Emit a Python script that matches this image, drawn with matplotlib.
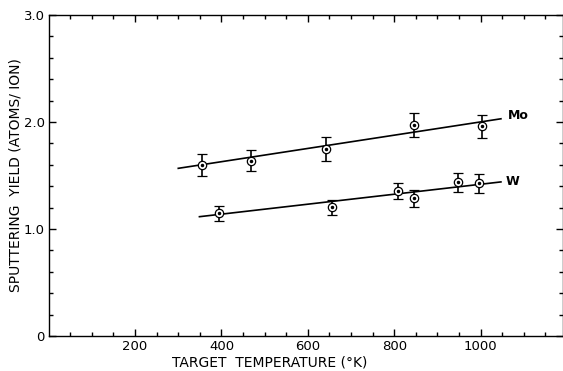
import matplotlib.pyplot as plt
import numpy as np

plt.rcParams['font.family'] = ['DejaVu Sans']

# Mo data (temperature K, yield atoms/ion, error)
mo_t = [355, 468, 642, 846, 1003]
mo_y = [1.60, 1.64, 1.75, 1.97, 1.96]
mo_err = [0.10, 0.095, 0.11, 0.11, 0.11]
mo_fit_t = [300, 1047]
mo_fit_y = [1.567, 2.03]

# W data
w_t = [394, 657, 808, 845, 947, 996]
w_y = [1.147, 1.203, 1.355, 1.287, 1.436, 1.427]
w_err = [0.07, 0.07, 0.075, 0.08, 0.087, 0.087]
w_fit_t = [349, 1047]
w_fit_y = [1.115, 1.44]

xticks = [200, 400, 600, 800, 1000]
yticks = [0, 1.0, 2.0, 3.0]
ytick_labels = ['0', '1.0', '2.0', '3.0']

fig = plt.figure(figsize=(5.63, 3.71), dpi=100)
ax = fig.add_axes([48.7 / 563, 35 / 371, 514 / 563, 321 / 371])

for t, y, e, ft, fy in [(mo_t, mo_y, mo_err, mo_fit_t, mo_fit_y),
                        (w_t, w_y, w_err, w_fit_t, w_fit_y)]:
    ax.plot(ft, fy, color='black', lw=1.2)
    ax.errorbar(t, y, yerr=e, fmt='o', ms=6, mfc='white', mec='black', mew=0.9,
                ecolor='black', elinewidth=1.2, capsize=3.5, capthick=1.2, zorder=3)
    ax.plot(t, y, 'o', ms=1.5, color='black', zorder=4)

ax.text(1063, 2.06, 'Mo', fontsize=9, fontweight='bold', va='center', ha='left')
ax.text(1058, 1.44, 'W', fontsize=9, fontweight='bold', va='center', ha='left')

ax.set_xlim(0, 1190)
ax.set_ylim(0, 3.0)
ax.set_xticks(xticks)
ax.set_xticks(np.arange(50, 1190, 50), minor=True)
ax.set_yticks(yticks)
ax.set_yticklabels(ytick_labels)
ax.set_yticks(np.arange(0.2, 3.0, 0.2), minor=True)
ax.tick_params(which='both', direction='in', top=True, right=True, labelsize=9.5, width=1.0)
ax.tick_params(which='major', length=5, pad=3)
ax.tick_params(which='minor', length=3)
for s in ax.spines.values():
    s.set_linewidth(1.0)

ax.set_xlabel('TARGET  TEMPERATURE (°K)', fontsize=10, x=0.43, labelpad=1.5)
ax.set_ylabel('SPUTTERING  YIELD (ATOMS/ ION)', fontsize=10, labelpad=1)

fig.savefig('out.png', dpi=100)
